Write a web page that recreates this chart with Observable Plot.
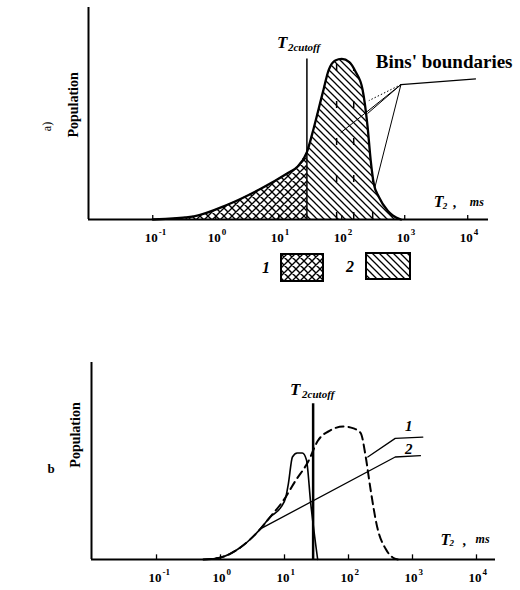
<!DOCTYPE html>
<html><head><meta charset="utf-8">
<script src="https://cdn.jsdelivr.net/npm/d3@7"></script>
<script src="https://cdn.jsdelivr.net/npm/@observablehq/plot@0.6"></script>
<style>
body{margin:0;background:#fff;}
#wrap{position:relative;width:520px;height:590px;overflow:hidden;background:#fff;}
#wrap svg{position:absolute;left:0;margin:0;}
</style></head><body><div id="wrap"></div>
<script>
const serif = "'Liberation Serif','DejaVu Serif','Times New Roman',serif";

// ---- Panel a: T2 distribution (ms) and population (arbitrary units)
const aT2  = [0.1, 0.45, 1.5, 5.1, 14, 20, 28, 36, 50, 62, 79, 100, 132, 166, 214, 257, 288, 324, 389, 537, 646, 871];
const aPop = [0,   2,    9,   19,  29, 33, 42, 57, 79, 93, 99, 100, 98,  92,  81,  58,  37,  22,  14,  5.5, 2.5, 0];
const cutoffT2 = 28;
const binT2  = [83, 155, 310];
const binPop = [99, 94, 26];
const leaderApexA = [871, 84];
const leaderEndA  = [13500, 87.5];
const leaderTargetT2  = [269, 257, 96, 331];
const leaderTargetPop = [74, 66, 54, 19];

// ---- Panel b: two distributions
const b2T2  = [0.54, 1.0, 2.04, 4.2, 6.0, 8.7, 10.5, 11.5, 13.3, 15.8, 19, 22, 25.7, 33];
const b2Pop = [0,    1.5, 9,    23,  32,  39,  47,   57,   77,   80,   80, 75, 42,   0];
const b1T2  = [0.54, 1.0, 2.04, 4.2, 6.0, 9.5, 14.8, 23.7, 33, 52, 83,  120,  155, 186, 219, 282, 380, 490, 590];
const b1Pop = [0,    1.5, 9,    23,  32,  44,  59,   74,   89, 97, 100, 98.5, 95,  77,  54,  24,  8,   1.5, 0];
const leader1T2  = [200, 537, 1450];
const leader1Pop = [77, 91, 92];
const leader2T2  = [4.2, 537, 1330];
const leader2Pop = [23, 77, 78];

// ---- axis ticks
const tickT2  = [0.1, 1, 10, 100, 1000, 10000];
const tickExp = ["-1", "0", "1", "2", "3", "4"];

const wrap = document.getElementById("wrap");
const zip = (xs, ys) => xs.map((t, i) => ({t, p: ys[i]}));

// legend + pattern defs
const ns = "http://www.w3.org/2000/svg";
const leg = document.createElementNS(ns, "svg");
leg.setAttribute("width", 520); leg.setAttribute("height", 45);
leg.style.top = "245px";
leg.innerHTML = `
<defs>
 <pattern id="cross1" width="8" height="8" patternUnits="userSpaceOnUse">
  <path d="M0,0L8,8M8,0L0,8M-1,-1L1,1M7,7L9,9M7,1L9,-1M-1,9L1,7" stroke="#000" stroke-width="1.4" fill="none"/>
 </pattern>
 <pattern id="hatch2" width="7" height="7" patternUnits="userSpaceOnUse">
  <path d="M0,0L7,7M-1,6L1,8M6,-1L8,1" stroke="#000" stroke-width="1.3" fill="none"/>
 </pattern>
</defs>
<text x="266" y="28" font-family="${serif}" font-size="16" font-weight="bold" font-style="italic" text-anchor="middle">1</text>
<rect x="281" y="9" width="42" height="27" fill="url(#cross1)" stroke="#000" stroke-width="2"/>
<text x="350" y="27" font-family="${serif}" font-size="16" font-weight="bold" font-style="italic" text-anchor="middle">2</text>
<rect x="366" y="8" width="44" height="26" fill="url(#hatch2)" stroke="#000" stroke-width="2"/>`;

const txt = {fontFamily: serif, fontWeight: "bold", fill: "#000"};

function tickMarks(len) {
  return [
    Plot.ruleX(tickT2, {x: d => d, y1: 0, y2: len, stroke: "#000", strokeWidth: 1.3}),
    Plot.text(tickT2, {x: d => d, y: 0, text: () => "10", dy: 18, dx: 5, textAnchor: "end", fontSize: 13, ...txt}),
    Plot.text(tickT2, {x: d => d, y: 0, text: (d, i) => tickExp[i], dy: 13, dx: 6, textAnchor: "start", fontSize: 9, ...txt})
  ];
}
function t2Label(x, y, commaDx, msDx) {
  return [
    Plot.text(["T"], {x: [x], y: [y], textAnchor: "start", fontSize: 16, fontStyle: "italic", ...txt}),
    Plot.text(["2"], {x: [x], y: [y], textAnchor: "start", dx: 9, dy: 4, fontSize: 9, fontStyle: "italic", ...txt}),
    Plot.text([","], {x: [x], y: [y], textAnchor: "start", dx: commaDx, dy: 1, fontSize: 14, ...txt}),
    Plot.text(["ms"], {x: [x], y: [y], textAnchor: "start", dx: msDx, fontSize: 12, fontStyle: "italic", ...txt})
  ];
}
function cutLabel(y, tDx, sDx) {
  return [
    Plot.text(["T"], {x: [cutoffT2], y: [y], textAnchor: "start", dx: tDx, fontSize: 17, fontStyle: "italic", ...txt}),
    Plot.text(["2cutoff"], {x: [cutoffT2], y: [y], textAnchor: "start", dx: sDx, dy: 5, fontSize: 11, fontStyle: "italic", ...txt})
  ];
}

// ---------- Panel a
const ptsA = zip(aT2, aPop);
const leftA = ptsA.filter(d => d.t <= cutoffT2);
const rightA = ptsA.filter(d => d.t >= cutoffT2);
const xMinA = 10 ** -2.02;
const plotA = Plot.plot({
  width: 520, height: 250, marginLeft: 88, marginRight: 32, marginTop: 7, marginBottom: 31,
  x: {type: "log", domain: [xMinA, 10 ** 4.33], axis: null},
  y: {domain: [0, 132], axis: null},
  style: {background: "transparent", overflow: "visible"},
  marks: [
    Plot.areaY(leftA, {x: "t", y: "p", fill: "url(#cross1)", curve: "monotone-x"}),
    Plot.areaY(rightA, {x: "t", y: "p", fill: "url(#hatch2)", curve: "monotone-x"}),
    Plot.ruleX(zip(binT2, binPop), {x: "t", y1: 0, y2: "p", stroke: "#000", strokeWidth: 1.5, strokeDasharray: "7,30"}),
    Plot.line(ptsA, {x: "t", y: "p", curve: "monotone-x", stroke: "#000", strokeWidth: 2.3}),
    Plot.ruleX([cutoffT2], {y1: 0, y2: 100, stroke: "#000", strokeWidth: 1.5}),
    Plot.link(leaderTargetT2.slice(0, 1), {x1: () => leaderApexA[0], y1: () => leaderApexA[1], x2: d => d, y2: leaderTargetPop.slice(0, 1), stroke: "#000", strokeWidth: 1, strokeDasharray: "1.5,2"}),
    Plot.link(leaderTargetT2.slice(1), {x1: () => leaderApexA[0], y1: () => leaderApexA[1], x2: d => d, y2: leaderTargetPop.slice(1), stroke: "#000", strokeWidth: 1}),
    Plot.link([0], {x1: [leaderApexA[0]], y1: [leaderApexA[1]], x2: [leaderEndA[0]], y2: [leaderEndA[1]], stroke: "#000", strokeWidth: 1.3}),
    Plot.text(["Bins' boundaries"], {x: [347], y: [98], textAnchor: "start", fontSize: 19, ...txt}),
    Plot.ruleX([xMinA], {stroke: "#000", strokeWidth: 2}),
    Plot.ruleY([0], {stroke: "#000", strokeWidth: 2.2}),
    ...tickMarks(2.5),
    ...cutLabel(110, -30, -19),
    ...t2Label(2900, 11, 19, 36),
    Plot.text(["Population"], {frameAnchor: "left", y: [51], dx: -15, rotate: -90, fontSize: 14, ...txt}),
    Plot.text(["a)"], {frameAnchor: "left", y: [55], dx: -41, rotate: -90, fontSize: 12, fontFamily: serif, fill: "#000"})
  ]
});
plotA.style.top = "0px";

// ---------- Panel b
const xMinB = 10 ** -2.016;
const plotB = Plot.plot({
  width: 520, height: 250, marginLeft: 91, marginRight: 25, marginTop: 22, marginBottom: 31,
  x: {type: "log", domain: [xMinB, 10 ** 4.297], axis: null},
  y: {domain: [0, 148], axis: null},
  style: {background: "transparent", overflow: "visible"},
  marks: [
    Plot.line(zip(b1T2, b1Pop), {x: "t", y: "p", curve: "monotone-x", stroke: "#000", strokeWidth: 2, strokeDasharray: "8,5"}),
    Plot.line(zip(b2T2, b2Pop), {x: "t", y: "p", curve: "monotone-x", stroke: "#000", strokeWidth: 1.6}),
    Plot.ruleX([cutoffT2], {y1: 0, y2: 117, stroke: "#000", strokeWidth: 2.5}),
    Plot.line(zip(leader1T2, leader1Pop), {x: "t", y: "p", stroke: "#000", strokeWidth: 1.3}),
    Plot.line(zip(leader2T2, leader2Pop), {x: "t", y: "p", stroke: "#000", strokeWidth: 1.3}),
    Plot.text(["1", "2"], {x: [870, 870], y: [100, 83], fontSize: 15, fontStyle: "italic", ...txt}),
    Plot.ruleX([xMinB], {stroke: "#000", strokeWidth: 2}),
    Plot.ruleY([0], {stroke: "#000", strokeWidth: 2.2}),
    ...tickMarks(3.5),
    ...cutLabel(128, -23, -11),
    ...t2Label(2750, 15, 22, 35),
    Plot.text(["Population"], {frameAnchor: "left", y: [69], dx: -16, rotate: -90, fontSize: 14, ...txt}),
    Plot.text(["b"], {frameAnchor: "left", y: [68], dx: -44, fontSize: 13, ...txt})
  ]
});
plotB.style.top = "340px";

wrap.appendChild(leg);
wrap.appendChild(plotA);
wrap.appendChild(plotB);
</script></body></html>
